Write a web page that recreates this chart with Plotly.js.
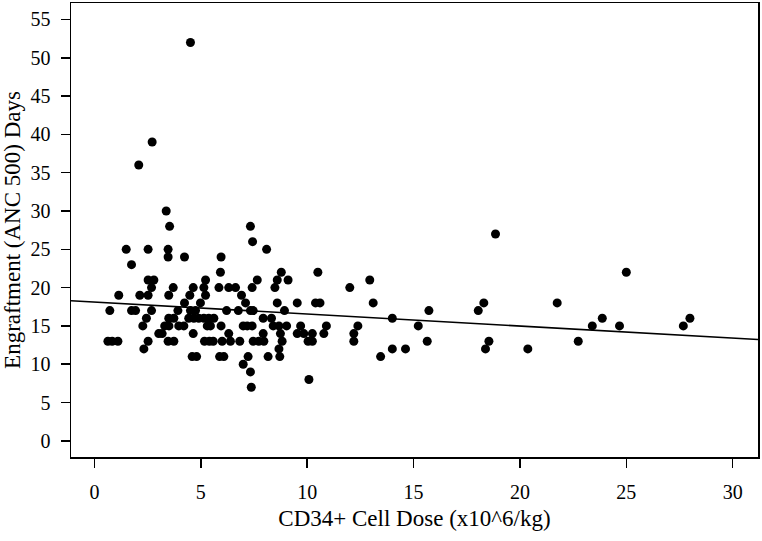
<!DOCTYPE html>
<html>
<head>
<meta charset="utf-8">
<script src="https://cdn.plot.ly/plotly-3.0.1.min.js"></script>
<style>html,body{margin:0;padding:0;background:#fff;}#chart{width:762px;height:541px;}</style>
</head>
<body>
<div id="chart"></div>
<script>
// CD34+ cell dose (x10^6/kg) for each patient
const cellDose = [
  4.51, 2.71, 2.08, 3.37, 3.53, 7.33, 7.43, 18.85,
  1.49, 2.52, 3.46, 8.09,
  3.46, 4.23, 5.95,
  1.74,
  5.92, 8.78, 10.5, 25.0,
  2.52, 2.79, 5.22, 7.65, 8.59, 9.1, 12.94,
  2.68, 3.7, 4.64, 5.14, 5.85, 6.31, 6.63, 7.41, 8.48, 12.0,
  1.14, 2.13, 2.52, 3.49, 4.48, 5.22, 6.91,
  4.23, 4.98, 7.10, 8.59, 9.53, 10.39, 10.6, 13.1, 18.3, 21.75,
  0.72, 1.74, 1.93, 2.68, 3.92, 4.51, 4.75, 6.21, 6.76, 7.33, 7.46, 8.93, 15.72, 18.04,
  2.44, 3.49, 3.73, 4.43, 4.67, 4.90, 5.14, 5.37, 5.61, 7.93, 8.32, 14.0, 23.87, 27.99,
  2.27, 3.3, 3.5, 3.96, 4.20, 5.3, 5.45, 5.95, 6.99, 7.18, 7.41, 8.4, 8.67, 9.03, 9.69, 10.9, 12.38, 15.22, 23.4, 24.68, 27.68,
  3.02, 3.18, 4.64, 6.31, 7.93, 8.74, 9.53, 9.84, 10.24, 10.78, 12.19,
  0.63, 0.83, 1.10, 2.52, 3.46, 3.73, 5.17, 5.4, 5.58, 6.0, 6.39, 6.83, 7.46, 7.72, 7.96, 8.82, 10.04, 10.24, 12.19, 15.64, 18.54, 22.74,
  2.32, 8.67, 14.0, 14.62, 18.38, 20.37,
  4.59, 4.80, 5.88, 6.08, 7.22, 8.16, 8.71, 13.45,
  6.99,
  7.33,
  10.08,
  7.37
];
// Days to engraftment (ANC 500) for each patient
const engraftDays = [
  52, 39, 36, 30, 28, 28, 26, 27,
  25, 25, 25, 25,
  24, 24, 24,
  23,
  22, 22, 22, 22,
  21, 21, 21, 21, 21, 21, 21,
  20, 20, 20, 20, 20, 20, 20, 20, 20, 20,
  19, 19, 19, 19, 19, 19, 19,
  18, 18, 18, 18, 18, 18, 18, 18, 18, 18,
  17, 17, 17, 17, 17, 17, 17, 17, 17, 17, 17, 17, 17, 17,
  16, 16, 16, 16, 16, 16, 16, 16, 16, 16, 16, 16, 16, 16,
  15, 15, 15, 15, 15, 15, 15, 15, 15, 15, 15, 15, 15, 15, 15, 15, 15, 15, 15, 15, 15,
  14, 14, 14, 14, 14, 14, 14, 14, 14, 14, 14,
  13, 13, 13, 13, 13, 13, 13, 13, 13, 13, 13, 13, 13, 13, 13, 13, 13, 13, 13, 13, 13, 13,
  12, 12, 12, 12, 12, 12,
  11, 11, 11, 11, 11, 11, 11, 11,
  10,
  9,
  8,
  7
];
// fitted regression line
const fitIntercept = 18.12;
const fitSlope = -0.157;
const fitXRange = [-1.105, 31.19];
const xTicks = [0, 5, 10, 15, 20, 25, 30];
const yTicks = [0, 5, 10, 15, 20, 25, 30, 35, 40, 45, 50, 55];

const fitY = fitXRange.map(x => fitIntercept + fitSlope * x);
const font = '"Liberation Serif", "DejaVu Serif", serif';

const traces = [
  {
    x: fitXRange, y: fitY, type: 'scatter', mode: 'lines',
    line: {color: '#000', width: 1.6}, hoverinfo: 'skip', showlegend: false
  },
  {
    x: cellDose, y: engraftDays, type: 'scatter', mode: 'markers',
    marker: {color: '#000', size: 9, line: {width: 0}}, showlegend: false
  }
];

const layout = {
  width: 762, height: 541,
  margin: {l: 71, r: 4, t: 3, b: 84, pad: 0},
  paper_bgcolor: '#fff', plot_bgcolor: '#fff',
  font: {family: font, color: '#000', size: 20},
  showlegend: false,
  xaxis: {
    range: fitXRange, tickvals: xTicks, ticktext: xTicks.map(String),
    showgrid: false, zeroline: false,
    showline: true, mirror: true, linecolor: '#000', linewidth: 1.5,
    ticks: 'outside', ticklen: 9, tickwidth: 1.5, tickcolor: '#000',
    ticklabelstandoff: 7,
    tickfont: {family: font, size: 20, color: '#000'},
    title: {text: 'CD34+ Cell Dose (x10^6/kg)', font: {family: font, size: 23, color: '#000'}, standoff: 8}
  },
  yaxis: {
    range: [-2.11, 57.15], tickvals: yTicks, ticktext: yTicks.map(String),
    showgrid: false, zeroline: false,
    showline: true, mirror: true, linecolor: '#000', linewidth: 1.5,
    ticks: 'outside', ticklen: 9, tickwidth: 1.5, tickcolor: '#000',
    ticklabelstandoff: 6,
    tickfont: {family: font, size: 20, color: '#000'},
    title: {text: 'Engraftment (ANC 500) Days', font: {family: font, size: 23, color: '#000'}, standoff: 8}
  }
};

Plotly.newPlot('chart', traces, layout, {displayModeBar: false, staticPlot: true});
</script>
</body>
</html>
